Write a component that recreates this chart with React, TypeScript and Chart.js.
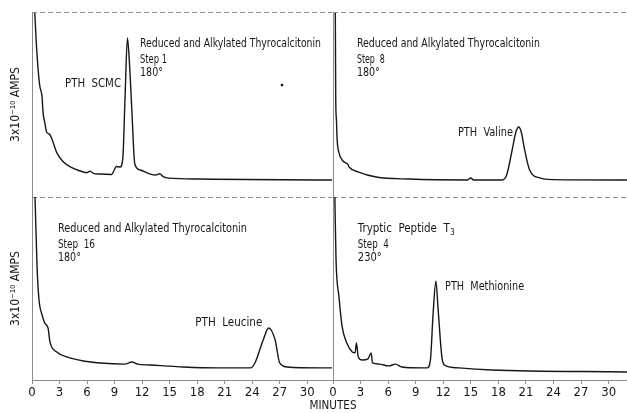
import React, { useEffect, useRef } from "react";
import { Chart, registerables } from "chart.js";

Chart.register(...registerables);

// ---------- data ----------
const tickMinutes = [0, 3, 6, 9, 12, 15, 18, 21, 24, 27, 30];
const yTitle = "3x10⁻¹⁰ AMPS";
const xTitle = "MINUTES";

// Panel A: Reduced and Alkylated Thyrocalcitonin, Step 1, 180°
const step1Min = [0.3, 0.45, 0.65, 0.85, 1.1, 1.2, 1.4, 1.6, 1.9, 2.2, 2.7, 3.4, 4.4, 5.6, 6.0, 6.3, 6.7, 7.4, 8.7, 9.0, 9.2, 9.6, 9.9, 10.15, 10.4, 10.65, 10.9, 11.2, 11.8, 12.9, 13.5, 13.9, 14.3, 14.9, 18.3, 31, 32.7];
const step1Amp = [100, 85, 70, 60, 54, 46, 40, 35, 34, 31, 24, 19, 15.7, 13.5, 13.2, 14, 12.8, 12.4, 12.2, 15, 16.5, 16.2, 21, 55, 86, 70, 45, 18, 14.6, 12.4, 11.9, 12.6, 11, 10.2, 9.7, 9.2, 9.2];
const speckMin = [27.25];
const speckAmp = [60.5];

// Panel B: Step 8, 180°
const step8Min = [0.25, 0.3, 0.37, 0.45, 0.65, 1.0, 1.4, 1.6, 1.75, 2.8, 4.7, 8.3, 14.6, 15.0, 15.3, 18.4, 18.9, 19.5, 19.9, 20.2, 20.5, 20.8, 21.4, 22.5, 24, 32];
const step8Amp = [102, 52, 42, 31, 24, 20, 18.4, 17.8, 16.2, 13.5, 10.8, 9.7, 9.2, 10.3, 9.2, 9.2, 11.9, 25.4, 35, 37.8, 35, 27, 14.6, 10.3, 9.4, 9.2];

// Panel C: Step 16, 180°
const step16Min = [0.33, 0.55, 0.76, 1.1, 1.4, 1.75, 1.96, 2.7, 3.8, 5.6, 7.4, 10.1, 10.9, 11.5, 12.9, 16.5, 20.2, 23.8, 24.3, 25.2, 25.8, 26.5, 27.0, 27.8, 31.4, 32.7];
const step16Amp = [100, 62, 44, 35.5, 31, 28.4, 20.8, 15.3, 12.6, 10.4, 9.3, 8.7, 9.8, 8.7, 8.2, 7.1, 6.6, 6.6, 9.3, 21.9, 28.4, 21.9, 9.3, 7.1, 6.6, 6.6];

// Panel D: Tryptic Peptide T3, Step 4, 230°
const t3Min = [0.2, 0.33, 0.65, 1.0, 1.5, 2.1, 2.4, 2.55, 2.75, 3.2, 3.8, 4.15, 4.3, 5.0, 6.1, 6.8, 7.5, 9.7, 10.25, 10.6, 10.9, 11.2, 11.45, 11.9, 12.3, 13.7, 17.3, 32];
const t3Amp = [100, 65.6, 45.4, 29, 20.2, 15.3, 14.8, 20.2, 12.6, 10.9, 11.5, 14.8, 9.3, 8.7, 7.7, 8.7, 7.1, 6.6, 6.6, 10.9, 36.6, 54, 38, 10.9, 7.7, 6.6, 5.5, 4.4];

// ---------- style ----------
const FONT = '"Liberation Sans Narrow", "DejaVu Sans Condensed", "Noto Sans", sans-serif';
const INK = "#171717";
const FRAME = "#8c8c8c";
const DASH = [5, 3];

const toPoints = (xs: number[], ys: number[]) => xs.map((x, i) => ({ x, y: ys[i] }));

// draw text condensed horizontally to a target width, keeping its height
function condensedText(ctx: any, text: string, x: number, y: number, maxWidth?: number, align = "left") {
  const w = ctx.measureText(text).width;
  const sx = maxWidth && w > maxWidth ? maxWidth / w : 1;
  ctx.save();
  ctx.translate(x, y);
  ctx.scale(sx, 1);
  ctx.textAlign = align;
  ctx.fillText(text, 0, 0);
  ctx.restore();
  return w * sx;
}

const framePlugin = {
  id: "frame",
  afterDraw(chart: any, _args: any, opts: any) {
    const { ctx, chartArea: a } = chart;
    ctx.save();
    ctx.strokeStyle = FRAME;
    ctx.lineWidth = 1;
    ctx.setLineDash(DASH);
    for (const side of opts.sides || []) {
      ctx.beginPath();
      if (side === "top") { ctx.moveTo(a.left, a.top + 0.5); ctx.lineTo(a.right, a.top + 0.5); }
      if (side === "bottom") { ctx.moveTo(a.left, a.bottom + 0.5); ctx.lineTo(a.right, a.bottom + 0.5); }
      ctx.stroke();
    }
    ctx.restore();
  },
};

const notesPlugin = {
  id: "notes",
  afterDatasetsDraw(chart: any, _args: any, opts: any) {
    const { ctx } = chart;
    const xs = chart.scales.x, ys = chart.scales.y;
    ctx.save();
    ctx.fillStyle = INK;
    ctx.textBaseline = "middle";
    for (const n of opts.items || []) {
      ctx.font = `${n.size || 12}px ${FONT}`;
      const px = xs.getPixelForValue(n.x);
      const py = ys.getPixelForValue(n.y);
      const w = condensedText(ctx, n.text, px, py, n.maxWidth);
      if (n.sub) {
        ctx.font = `9px ${FONT}`;
        condensedText(ctx, n.sub, px + w + 0.5, py + 4, 4.5);
      }
    }
    if (opts.caption) {
      ctx.font = `12px ${FONT}`;
      condensedText(ctx, opts.caption.text, opts.caption.px, opts.caption.py, 47, "center");
    }
    ctx.restore();
  },
};

type Panel = {
  min: number[];
  amp: number[];
  xMax: number;
  padding: { left: number; top: number; right: number; bottom: number };
  yWidth: number;
  yTitle: boolean;
  xAxis: boolean;
  sides: string[];
  notes: any[];
  caption?: any;
  speck?: boolean;
};

function makeConfig(p: Panel): any {
  const datasets: any[] = [
    {
      data: toPoints(p.min, p.amp),
      borderColor: INK,
      borderWidth: 1.4,
      pointRadius: 0,
      fill: false,
      cubicInterpolationMode: "monotone",
    },
  ];
  if (p.speck) {
    datasets.push({
      data: toPoints(speckMin, speckAmp),
      showLine: false,
      pointRadius: 1.4,
      pointBorderWidth: 0,
      backgroundColor: INK,
    });
  }
  const xScale: any = {
    type: "linear",
    min: 0,
    max: p.xMax,
    display: p.xAxis,
    afterBuildTicks: (s: any) => { s.ticks = tickMinutes.map((v) => ({ value: v })); },
    ticks: {
      autoSkip: false,
      maxRotation: 0,
      padding: 1,
      color: INK,
      font: { family: FONT, size: 13 },
    },
    grid: { drawOnChartArea: false, drawTicks: true, tickLength: 4, color: FRAME },
    border: { display: true, dash: DASH, color: FRAME },
  };
  if (p.xAxis) xScale.afterFit = (s: any) => { s.height = 33; };
  return {
    type: "line",
    data: { datasets },
    options: {
      animation: false,
      responsive: false,
      devicePixelRatio: 1,
      layout: { padding: p.padding },
      events: [],
      plugins: {
        legend: { display: false },
        tooltip: { enabled: false },
        frame: { sides: p.sides },
        notes: { items: p.notes, caption: p.caption },
      },
      scales: {
        x: xScale,
        y: {
          type: "linear",
          min: 0,
          max: 100,
          display: true,
          afterFit: (s: any) => { s.width = p.yWidth; },
          ticks: { display: false },
          grid: { display: false },
          border: { display: true, dash: DASH, color: FRAME },
          title: {
            display: p.yTitle,
            text: yTitle,
            color: INK,
            font: { family: FONT, size: 12 },
            padding: { top: 9, bottom: 0 },
          },
        },
      },
    },
    plugins: [framePlugin, notesPlugin],
  };
}

const panels: Panel[] = [
  {
    min: step1Min, amp: step1Amp, xMax: 32.7,
    padding: { left: 0, top: 12, right: 295, bottom: 216 },
    yWidth: 32, yTitle: true, xAxis: false, sides: ["top", "bottom"], speck: true,
    notes: [
      { text: "Reduced and Alkylated Thyrocalcitonin", x: 11.77, y: 82.7, maxWidth: 181 },
      { text: "Step 1", x: 11.77, y: 74.1, maxWidth: 27 },
      { text: "180°", x: 11.77, y: 67.0, maxWidth: 23 },
      { text: "PTH  SCMC", x: 3.6, y: 61.1, maxWidth: 56 },
    ],
  },
  {
    min: step8Min, amp: step8Amp, xMax: 32,
    padding: { left: 332, top: 12, right: 0, bottom: 216 },
    yWidth: 1, yTitle: false, xAxis: false, sides: ["top", "bottom"],
    notes: [
      { text: "Reduced and Alkylated Thyrocalcitonin", x: 2.6, y: 82.7, maxWidth: 183 },
      { text: "Step  8", x: 2.6, y: 74.1, maxWidth: 28 },
      { text: "180°", x: 2.6, y: 67.0, maxWidth: 23 },
      { text: "PTH  Valine", x: 13.6, y: 34.6, maxWidth: 55 },
    ],
  },
  {
    min: step16Min, amp: step16Amp, xMax: 32.7,
    padding: { left: 0, top: 197, right: 295, bottom: 0 },
    yWidth: 32, yTitle: true, xAxis: true, sides: [],
    caption: { text: xTitle, px: 333, py: 406 },
    notes: [
      { text: "Reduced and Alkylated Thyrocalcitonin", x: 2.83, y: 82.5, maxWidth: 189 },
      { text: "Step  16", x: 2.83, y: 73.8, maxWidth: 37 },
      { text: "180°", x: 2.83, y: 66.7, maxWidth: 23 },
      { text: "PTH  Leucine", x: 17.8, y: 31.1, maxWidth: 67 },
    ],
  },
  {
    min: t3Min, amp: t3Amp, xMax: 32,
    padding: { left: 332, top: 197, right: 0, bottom: 0 },
    yWidth: 1, yTitle: false, xAxis: true, sides: [],
    notes: [
      { text: "Tryptic  Peptide  T", x: 2.7, y: 82.5, maxWidth: 92, sub: "3" },
      { text: "Step  4", x: 2.7, y: 73.8, maxWidth: 31 },
      { text: "230°", x: 2.7, y: 66.7, maxWidth: 24 },
      { text: "PTH  Methionine", x: 12.2, y: 50.8, maxWidth: 79 },
    ],
  },
];

function PanelCanvas({ panel }: { panel: Panel }) {
  const ref = useRef<HTMLCanvasElement | null>(null);
  useEffect(() => {
    if (!ref.current) return;
    const chart = new Chart(ref.current, makeConfig(panel));
    return () => chart.destroy();
  }, [panel]);
  return (
    <canvas
      ref={ref}
      width={627}
      height={413}
      style={{ position: "absolute", left: 0, top: 0, width: 627, height: 413 }}
    />
  );
}

export default function App() {
  return (
    <div style={{ position: "absolute", left: 0, top: 0, width: 627, height: 413, background: "#ffffff", overflow: "hidden" }}>
      {panels.map((p, i) => (
        <PanelCanvas key={i} panel={p} />
      ))}
    </div>
  );
}
